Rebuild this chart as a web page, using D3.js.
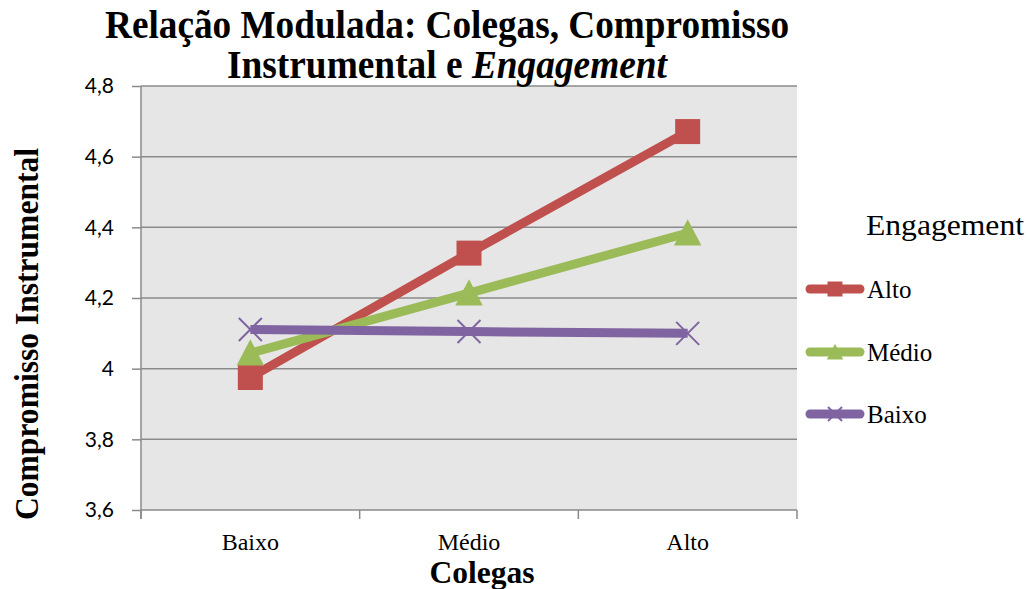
<!DOCTYPE html>
<html>
<head>
<meta charset="utf-8">
<script src="https://cdn.jsdelivr.net/npm/d3@7"></script>
<style>
  html, body { margin: 0; padding: 0; background: #ffffff; }
  svg { display: block; }
</style>
</head>
<body>
<svg id="chart" width="1030" height="589"></svg>
<script>
// Categories on the x axis (Colegas)
const categories = ["Baixo", "Médio", "Alto"];

// Series: one line per Engagement level
const seriesNames = ["Alto", "Médio", "Baixo"];
const altoValues  = [3.975, 4.327, 4.671];
const medioValues = [4.044, 4.214, 4.384];
const baixoValues = [4.111, 4.105, 4.100];

// Y axis ticks and their labels (decimal comma)
const yTicks = [3.6, 3.8, 4.0, 4.2, 4.4, 4.6, 4.8];
const yTickLabels = ["3,6", "3,8", "4", "4,2", "4,4", "4,6", "4,8"];

const seriesColors = ["#C0504D", "#9BBB59", "#8064A2"];
const seriesMarkers = ["square", "triangle", "cross"];
const seriesValues = [altoValues, medioValues, baixoValues];

const svg = d3.select("#chart");
const plot = { left: 141, right: 797, top: 86, bottom: 510 };

const x = d3.scaleBand().domain(categories).range([plot.left, plot.right]);
const y = d3.scaleLinear().domain([3.6, 4.8]).range([plot.bottom, plot.top]);
const cx = c => x(c) + x.bandwidth() / 2;

// Plot area background
svg.append("rect")
  .attr("x", plot.left).attr("y", plot.top)
  .attr("width", plot.right - plot.left).attr("height", plot.bottom - plot.top)
  .attr("fill", "#e6e6e6");

// Horizontal gridlines
svg.append("g").selectAll("line").data(yTicks.slice(1)).join("line")
  .attr("x1", plot.left).attr("x2", plot.right)
  .attr("y1", d => y(d)).attr("y2", d => y(d))
  .attr("stroke", "#8a8a8a").attr("stroke-width", 1.5);

// Y axis
const yAxis = d3.axisLeft(y).tickValues(yTicks).tickSize(9)
  .tickFormat((d, i) => yTickLabels[i]);
const gy = svg.append("g").attr("transform", `translate(${plot.left},0)`).call(yAxis);
gy.select(".domain").attr("stroke", "#8a8a8a").attr("stroke-width", 1.5)
  .attr("d", `M0,${plot.top}V${plot.bottom + 9}`);
gy.selectAll(".tick line").attr("stroke", "#8a8a8a").attr("stroke-width", 1.5);
gy.selectAll(".tick text")
  .attr("x", -27)
  .attr("font-family", "Lato, 'Open Sans', sans-serif")
  .attr("font-size", 21).attr("fill", "#000");

// X axis: baseline with ticks at band edges
const edges = categories.map(c => x(c)).concat([x(categories[categories.length - 1]) + x.bandwidth()]);
const gx = svg.append("g");
gx.append("line")
  .attr("x1", plot.left).attr("x2", plot.right)
  .attr("y1", plot.bottom).attr("y2", plot.bottom)
  .attr("stroke", "#8a8a8a").attr("stroke-width", 1.5);
gx.selectAll(".edge").data(edges).join("line").attr("class", "edge")
  .attr("x1", d => d).attr("x2", d => d)
  .attr("y1", plot.bottom).attr("y2", plot.bottom + 9)
  .attr("stroke", "#8a8a8a").attr("stroke-width", 1.5);
gx.selectAll("text").data(categories).join("text")
  .attr("x", d => cx(d)).attr("y", 550)
  .attr("text-anchor", "middle")
  .attr("font-family", "'Liberation Serif', 'Times New Roman', serif")
  .attr("font-size", 24).attr("fill", "#000")
  .text(d => d);

// Marker drawing
function drawMarker(g, type, color, size, px, py) {
  if (type === "square") {
    g.append("rect")
      .attr("x", px - size / 2).attr("y", py - size / 2)
      .attr("width", size).attr("height", size)
      .attr("fill", color);
  } else if (type === "triangle") {
    const h = size * 1.0;
    g.append("path")
      .attr("d", `M${px},${py - h * 0.55}L${px + size * 0.55},${py + h * 0.5}L${px - size * 0.55},${py + h * 0.5}Z`)
      .attr("fill", color);
  } else {
    const s = size / 2;
    g.append("path")
      .attr("d", `M${px - s},${py - s}L${px + s},${py + s}M${px - s},${py + s}L${px + s},${py - s}`)
      .attr("stroke", color).attr("stroke-width", 2).attr("fill", "none");
  }
}

// Lines and markers
const line = d3.line().x((d, i) => cx(categories[i])).y(d => y(d));
const gLines = svg.append("g");
seriesValues.forEach((vals, s) => {
  gLines.append("path")
    .datum(vals)
    .attr("d", line)
    .attr("fill", "none")
    .attr("stroke", seriesColors[s])
    .attr("stroke-width", 9)
    .attr("stroke-linejoin", "round");
});
seriesValues.forEach((vals, s) => {
  const g = gLines.append("g");
  vals.forEach((v, i) => {
    drawMarker(g, seriesMarkers[s], seriesColors[s], seriesMarkers[s] === "cross" ? 23 : 25, cx(categories[i]), y(v));
  });
});

// Legend
const legend = svg.append("g");
legend.append("text")
  .attr("x", 866).attr("y", 235)
  .attr("font-family", "'Liberation Serif', 'Times New Roman', serif")
  .attr("font-size", 30).attr("fill", "#000")
  .attr("textLength", 158).attr("lengthAdjust", "spacingAndGlyphs")
  .text("Engagement");
const legendY = [289, 352, 414];
seriesNames.forEach((name, s) => {
  const ly = legendY[s];
  legend.append("line")
    .attr("x1", 810).attr("x2", 860)
    .attr("y1", ly).attr("y2", ly)
    .attr("stroke", seriesColors[s]).attr("stroke-width", 9)
    .attr("stroke-linecap", "round");
  drawMarker(legend, seriesMarkers[s], seriesColors[s], seriesMarkers[s] === "cross" ? 14 : 15, 835, ly);
  legend.append("text")
    .attr("x", 867).attr("y", ly + 9)
    .attr("font-family", "'Liberation Serif', 'Times New Roman', serif")
    .attr("font-size", 25).attr("fill", "#000")
    .text(name);
});

// Title
const title = svg.append("g")
  .attr("font-family", "'Liberation Serif', 'Times New Roman', serif")
  .attr("font-weight", "bold").attr("font-size", 39).attr("fill", "#000")
  .attr("text-anchor", "middle");
title.append("text").attr("x", 447).attr("y", 38)
  .attr("textLength", 684).attr("lengthAdjust", "spacingAndGlyphs")
  .text("Relação Modulada: Colegas, Compromisso");
const t2 = title.append("text").attr("x", 447).attr("y", 78)
  .attr("textLength", 440).attr("lengthAdjust", "spacingAndGlyphs");
t2.append("tspan").text("Instrumental e ");
t2.append("tspan").attr("font-style", "italic").text("Engagement");

// Axis titles
svg.append("text")
  .attr("transform", "translate(38,334) rotate(-90)")
  .attr("text-anchor", "middle")
  .attr("font-family", "'Liberation Serif', 'Times New Roman', serif")
  .attr("font-weight", "bold").attr("font-size", 34).attr("fill", "#000")
  .attr("textLength", 372).attr("lengthAdjust", "spacingAndGlyphs")
  .text("Compromisso Instrumental");
svg.append("text")
  .attr("x", 482).attr("y", 583)
  .attr("text-anchor", "middle")
  .attr("font-family", "'Liberation Serif', 'Times New Roman', serif")
  .attr("font-weight", "bold").attr("font-size", 31).attr("fill", "#000")
  .attr("textLength", 105).attr("lengthAdjust", "spacingAndGlyphs")
  .text("Colegas");
</script>
</body>
</html>
